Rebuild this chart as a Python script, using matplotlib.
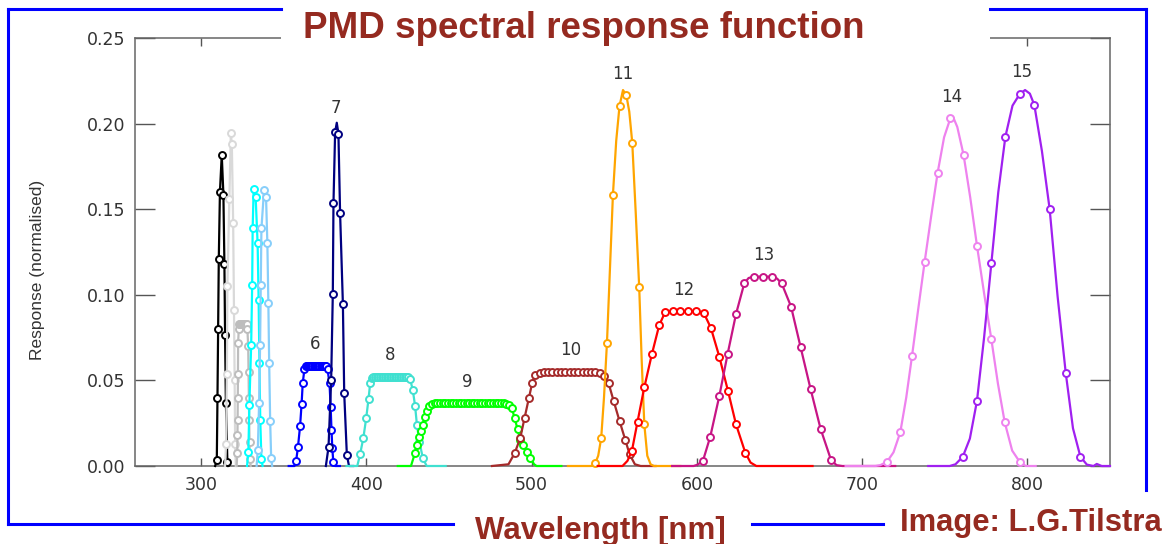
import numpy as np
import matplotlib
matplotlib.use("Agg")
import matplotlib.pyplot as plt
from matplotlib.lines import Line2D
from matplotlib.patches import Rectangle

# band markers (wavelength nm, normalised response) and extra line-only points
b1_wl = [309.5, 309.9, 310.3, 310.7, 311.4, 312.5, 313.5, 314.1, 314.5, 315.0, 315.9]
b1_r = [0.0035, 0.0395, 0.0798, 0.1207, 0.1602, 0.1817, 0.1583, 0.118, 0.0765, 0.037, 0.0025]
b1_lwl = [308.5, 316.5]
b1_lr = [0.0, 0.0]

b2_wl = [315.1, 315.6, 315.9, 317.1, 318.0, 318.6, 319.4, 319.9, 320.3, 320.6]
b2_r = [0.0127, 0.0536, 0.1051, 0.1558, 0.1947, 0.188, 0.142, 0.091, 0.05, 0.013]
b2_lwl = [314.5, 321.0]
b2_lr = [0.0, 0.0]

b3_wl = [321.9, 322.0, 322.1, 322.2, 322.3, 322.4, 322.8, 323.2, 323.6, 324.0, 324.4, 324.8,
         325.2, 325.6, 326.0, 326.4, 326.8, 327.2, 327.6, 328.0, 328.5, 328.7, 328.9, 329.1,
         329.3, 329.5]
b3_r = [0.0074, 0.018, 0.027, 0.040, 0.054, 0.072, 0.080, 0.083, 0.083, 0.083, 0.083, 0.083,
        0.083, 0.083, 0.083, 0.083, 0.083, 0.083, 0.083, 0.080, 0.070, 0.055, 0.040, 0.027,
        0.014, 0.004]
b3_lwl = [321.5, 330.0]
b3_lr = [0.0, 0.0]

b4_wl = [328.6, 329.2, 330.3, 330.9, 331.2, 331.8, 333.0, 334.2, 334.8, 335.3, 335.8, 336.5]
b4_r = [0.0084, 0.0356, 0.0707, 0.1057, 0.1388, 0.1616, 0.157, 0.13, 0.097, 0.06, 0.027, 0.004]
b4_lwl = [327.8, 337.2]
b4_lr = [0.0, 0.0]

b5_wl = [334.3, 335.1, 335.7, 336.1, 336.5, 338.1, 339.3, 340.1, 340.7, 341.2, 341.8, 342.4]
b5_r = [0.0093, 0.0366, 0.0707, 0.1057, 0.1388, 0.1612, 0.157, 0.13, 0.095, 0.06, 0.026, 0.0045]
b5_lwl = [333.6, 343.0]
b5_lr = [0.0, 0.0]

b6_wl = [357.5, 358.6, 359.9, 360.8, 361.5, 362.5, 363.2, 363.9, 364.6, 365.3, 366.0, 366.7,
         367.4, 368.1, 368.8, 369.5, 370.2, 370.9, 371.6, 372.3, 373.0, 373.7, 374.4, 375.1,
         375.8, 376.5, 377.7, 378.4, 378.9, 379.4, 380.0]
b6_r = [0.003, 0.0109, 0.0234, 0.0362, 0.0483, 0.0565, 0.0582, 0.0587, 0.0587, 0.0587, 0.0587,
        0.0587, 0.0587, 0.0587, 0.0587, 0.0587, 0.0587, 0.0587, 0.0587, 0.0587, 0.0587, 0.0587,
        0.0587, 0.0587, 0.0584, 0.0565, 0.0483, 0.0343, 0.021, 0.0103, 0.0025]
b6_lwl = [353.0, 356.5, 381.0, 384.0]
b6_lr = [0.0, 0.0, 0.0, 0.0]

b7_wl = [377.1, 378.7, 379.7, 380.1, 381.1, 383.1, 384.1, 385.8, 386.6, 388.2]
b7_r = [0.011, 0.05, 0.1005, 0.1534, 0.195, 0.194, 0.148, 0.0946, 0.0425, 0.0064]
b7_lwl = [375.5, 382.1, 389.5, 392.0]
b7_lr = [0.0, 0.2005, 0.0, 0.0]

b8_wl = [396.2, 398.2, 399.9, 401.3, 402.3, 403.3, 404.2, 405.2, 406.2, 407.2, 408.2, 409.2,
         410.2, 411.2, 412.2, 413.2, 414.2, 415.2, 416.2, 417.2, 418.2, 419.2, 420.2, 421.2,
         422.2, 423.2, 424.2, 425.2, 426.5, 428.1, 429.5, 430.6, 432.1, 434.2]
b8_r = [0.0068, 0.0165, 0.0279, 0.0391, 0.0483, 0.0512, 0.052, 0.0522, 0.0522, 0.0522, 0.0522,
        0.0522, 0.0522, 0.0522, 0.0522, 0.0522, 0.0522, 0.0522, 0.0522, 0.0522, 0.0522, 0.0522,
        0.0522, 0.0522, 0.0522, 0.0522, 0.0522, 0.052, 0.0506, 0.0444, 0.035, 0.024, 0.0142,
        0.0045]
b8_lwl = [388.0, 394.5, 436.5, 448.0]
b8_lr = [0.0, 0.0, 0.0, 0.0]

b9_wl = [429.5, 430.6, 432.1, 433.2, 434.2, 435.2, 436.6, 438.2, 439.8, 441.4, 443.0, 444.6,
         446.2, 447.8, 449.4, 451.0, 452.6, 454.2, 455.8, 457.4, 459.0, 460.6, 462.2, 463.8,
         465.4, 467.0, 468.6, 470.2, 471.8, 473.4, 475.0, 476.6, 478.2, 479.8, 481.4, 483.0,
         484.6, 486.4, 488.1, 489.7, 491.5, 493.1, 494.7, 497.2, 499.2]
b9_r = [0.0078, 0.0123, 0.0168, 0.0204, 0.024, 0.0284, 0.0323, 0.035, 0.0362, 0.0366, 0.0366,
        0.0366, 0.0366, 0.0366, 0.0366, 0.0366, 0.0366, 0.0366, 0.0366, 0.0366, 0.0366, 0.0366,
        0.0366, 0.0366, 0.0366, 0.0366, 0.0366, 0.0366, 0.0366, 0.0366, 0.0366, 0.0366, 0.0366,
        0.0366, 0.0366, 0.0366, 0.0364, 0.0355, 0.0337, 0.0279, 0.0216, 0.0152, 0.0123, 0.0084,
        0.0048]
b9_lwl = [419.0, 427.0, 501.5, 503.0, 518.0]
b9_lr = [0.0, 0.0, 0.001, 0.0, 0.0]

b10_wl = [489.7, 493.1, 495.7, 498.4, 500.4, 502.2, 504.8, 507.4, 510.0, 512.6, 515.2, 517.8,
          520.4, 523.0, 525.6, 528.2, 530.8, 533.4, 536.0, 538.6, 541.2, 543.8, 546.6, 549.6,
          553.2, 556.7, 559.3]
b10_r = [0.0074, 0.0162, 0.0279, 0.0399, 0.0487, 0.0532, 0.0545, 0.0549, 0.0549, 0.0549,
         0.0549, 0.0549, 0.0549, 0.0549, 0.0549, 0.0549, 0.0549, 0.0549, 0.0549, 0.0549, 0.0545,
         0.0527, 0.0483, 0.0381, 0.0263, 0.0152, 0.0068]
b10_lwl = [476.0, 486.0, 562.5, 566.0, 575.0]
b10_lr = [0.0, 0.001, 0.001, 0.0, 0.0]

b11_wl = [538.5, 542.1, 545.6, 549.2, 553.2, 557.3, 560.9, 565.1, 568.2]
b11_r = [0.0016, 0.0162, 0.072, 0.1583, 0.2103, 0.2167, 0.1889, 0.1047, 0.0243]
b11_lwl = [522.0, 536.0, 540.3, 543.8, 547.4, 551.2, 555.3, 559.1, 563.0, 566.6, 570.0, 572.0,
           574.0, 590.0]
b11_lr = [0.0, 0.0, 0.006, 0.04, 0.115, 0.19, 0.2196, 0.207, 0.148, 0.062, 0.006, 0.001,
          0.0, 0.0]

b12_wl = [560.7, 564.1, 568.2, 572.8, 577.2, 580.9, 585.5, 590.0, 594.6, 599.2, 604.1, 608.5,
          613.6, 618.8, 623.7, 629.3]
b12_r = [0.0089, 0.0259, 0.046, 0.0654, 0.0822, 0.0901, 0.0905, 0.0905, 0.0905, 0.0905, 0.0896,
         0.0806, 0.0638, 0.044, 0.0243, 0.0078]
b12_lwl = [540.0, 555.0, 558.0, 632.5, 636.0, 670.0]
b12_lr = [0.0, 0.0, 0.003, 0.002, 0.0, 0.0]

b13_wl = [603.7, 608.1, 613.6, 618.6, 623.7, 628.7, 634.3, 640.0, 645.6, 651.3, 657.0, 662.8,
          668.8, 674.9, 681.2]
b13_r = [0.0031, 0.0171, 0.0409, 0.0654, 0.0888, 0.1067, 0.1106, 0.1106, 0.1106, 0.1067, 0.0931,
         0.0693, 0.045, 0.0216, 0.0035]
b13_lwl = [585.0, 598.0, 600.5, 631.3, 648.5, 684.5, 688.0, 720.0]
b13_lr = [0.0, 0.0, 0.0008, 0.1098, 0.1095, 0.0005, 0.0, 0.0]

b14_wl = [715.1, 723.1, 730.2, 737.8, 745.7, 753.4, 761.4, 769.5, 778.2, 786.3, 795.3]
b14_r = [0.0025, 0.0197, 0.0643, 0.119, 0.1713, 0.2031, 0.1817, 0.1287, 0.074, 0.0255, 0.0025]
b14_lwl = [690.0, 708.0, 711.0, 719.0, 726.7, 734.0, 741.8, 749.6, 755.0, 757.6, 765.4, 773.8,
           782.2, 790.8, 799.0, 805.0]
b14_lr = [0.0, 0.0, 0.0005, 0.008, 0.04, 0.092, 0.146, 0.192, 0.204, 0.198, 0.157, 0.101,
          0.048, 0.009, 0.0, 0.0]

b15_wl = [760.9, 769.5, 778.2, 786.7, 795.4, 804.2, 813.5, 823.2, 832.1]
b15_r = [0.0054, 0.038, 0.1184, 0.1924, 0.2173, 0.2109, 0.1499, 0.0545, 0.0054]
b15_lwl = [740.0, 753.0, 756.5, 765.2, 773.8, 782.4, 791.0, 798.6, 801.5, 808.8, 818.3, 827.6,
           836.0, 840.0, 842.0, 845.0, 850.0]
b15_lr = [0.0, 0.0, 0.001, 0.016, 0.075, 0.160, 0.2105, 0.2196, 0.2175, 0.184, 0.099, 0.022,
          0.0008, 0.0, 0.0012, 0.0, 0.0]

band_colors = ['black', '#d9d9d9', '#bdbdbd', '#00ffff', '#87cefa', '#0000ff', '#000080',
               '#40e0d0', '#00ff00', '#a52a2a', '#ffa500', '#ff0000', '#c71585', '#ee82ee',
               '#a020f0']

band_names = ['6', '7', '8', '9', '10', '11', '12', '13', '14', '15']
name_wl = [369.0, 381.7, 414.4, 461.0, 523.4, 555.4, 591.8, 640.2, 754.0, 796.4]
name_r = [0.0713, 0.209, 0.0648, 0.049, 0.0678, 0.229, 0.1028, 0.1232, 0.2155, 0.230]

xticks = [300, 400, 500, 600, 700, 800]
yticks = [0.0, 0.05, 0.10, 0.15, 0.20, 0.25]
ytick_labels = ['0.00', '0.05', '0.10', '0.15', '0.20', '0.25']

bands = [
    (b1_wl, b1_r, b1_lwl, b1_lr), (b2_wl, b2_r, b2_lwl, b2_lr), (b3_wl, b3_r, b3_lwl, b3_lr),
    (b4_wl, b4_r, b4_lwl, b4_lr), (b5_wl, b5_r, b5_lwl, b5_lr), (b6_wl, b6_r, b6_lwl, b6_lr),
    (b7_wl, b7_r, b7_lwl, b7_lr), (b8_wl, b8_r, b8_lwl, b8_lr), (b9_wl, b9_r, b9_lwl, b9_lr),
    (b10_wl, b10_r, b10_lwl, b10_lr), (b11_wl, b11_r, b11_lwl, b11_lr),
    (b12_wl, b12_r, b12_lwl, b12_lr), (b13_wl, b13_r, b13_lwl, b13_lr),
    (b14_wl, b14_r, b14_lwl, b14_lr), (b15_wl, b15_r, b15_lwl, b15_lr),
]

W, H = 1169, 544
red_txt = '#952a20'
frame_blue = '#0000ff'


def fx(x):
    return x / W


def fy(y):
    return 1 - y / H


fig = plt.figure(figsize=(W / 100, H / 100), dpi=100)
ax = fig.add_axes([fx(135), fy(466), (1110 - 135) / W, (466 - 38) / H])

for i, (wl, r, lwl, lr) in enumerate(bands):
    c = band_colors[i]
    x = np.concatenate([wl, lwl])
    y = np.concatenate([r, lr])
    o = np.argsort(x, kind='stable')
    ax.plot(x[o], y[o], color=c, lw=1.6, zorder=3 + i * 0.1, clip_on=False)
    ax.plot(wl, r, 'o', ms=5, mfc='white', mec=c, mew=1.4, zorder=3.05 + i * 0.1,
            clip_on=False)

for name, x, y in zip(band_names, name_wl, name_r):
    ax.text(x, y, name, ha='center', va='center', fontsize=12, color='#333333',
            family='DejaVu Sans')

ax.set_xlim(260, 850)
ax.set_ylim(0, 0.25)
ax.set_xticks(xticks)
ax.set_xticklabels([str(t) for t in xticks])
ax.set_yticks(yticks)
ax.set_yticklabels(ytick_labels)
ax.tick_params(axis='x', direction='in', length=5.8, width=1.0, color='#555555',
               top=True, pad=7, labelsize=12.5, labelcolor='#333333')
ax.tick_params(axis='y', direction='in', length=14.4, width=1.0, color='#555555',
               right=True, pad=7, labelsize=12.5, labelcolor='#333333')
for s in ax.spines.values():
    s.set_color('#666666')
    s.set_linewidth(1.1)

fig.text(fx(38), fy(270), 'Response (normalised)', rotation=90, ha='center', va='center',
         fontsize=12.5, color='#333333', family=['Liberation Sans Narrow', 'Liberation Sans'])

# white cover behind the title, blue frame with gaps
fig.add_artist(Rectangle((fx(281), fy(47)), (990 - 281) / W, 47 / H, transform=fig.transFigure,
                         facecolor='white', edgecolor='none', zorder=5))
frame = [((8, 9), (281, 9)), ((990, 9), (1146, 9)), ((1146, 9), (1146, 490)),
         ((8, 9), (8, 524)), ((8, 524), (453, 524)), ((752, 524), (883, 524))]
for (x0, y0), (x1, y1) in frame:
    fig.add_artist(Line2D([fx(x0), fx(x1)], [fy(y0), fy(y1)], transform=fig.transFigure,
                          color=frame_blue, lw=2.2, solid_capstyle='projecting', zorder=6))

fig.text(fx(584), fy(38.3), 'PMD spectral response function', ha='center', va='baseline',
         fontsize=26.5, fontweight='bold', color=red_txt, family='Liberation Sans', zorder=7)
fig.text(fx(600.5), fy(539), 'Wavelength [nm]', ha='center', va='baseline',
         fontsize=22.5, fontweight='bold', color=red_txt, family='Liberation Sans', zorder=7)
fig.text(fx(900), fy(531.5), 'Image: L.G.Tilstra', ha='left', va='baseline',
         fontsize=22.3, fontweight='bold', color=red_txt, family='Liberation Sans', zorder=7)

fig.savefig('out.png', dpi=100)
